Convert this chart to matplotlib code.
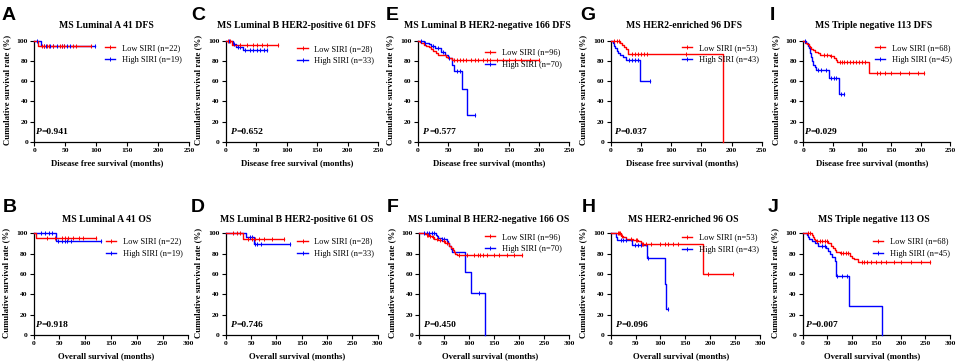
import numpy as np
import matplotlib
matplotlib.use('Agg')
import matplotlib.pyplot as plt
from matplotlib.lines import Line2D

SERIF = ['Liberation Serif', 'DejaVu Serif']
SANS = ['Liberation Sans', 'DejaVu Sans']
RED = '#FF0000'
BLUE = '#0000FF'

# ---------------- data (time in months, survival in %) ----------------
letters = ['A', 'B', 'C', 'D', 'E', 'F', 'G', 'H', 'I', 'J']
titles = ['MS Luminal A 41 DFS', 'MS Luminal A 41 OS',
          'MS Luminal B HER2-positive 61 DFS', 'MS Luminal B HER2-positive 61 OS',
          'MS Luminal B HER2-negative 166 DFS', 'MS Luminal B HER2-negative 166 OS',
          'MS HER2-enriched 96 DFS', 'MS HER2-enriched 96 OS',
          'MS Triple negative 113 DFS', 'MS Triple negative 113 OS']
low_labels = ['Low SIRI (n=22)', 'Low SIRI (n=22)', 'Low SIRI (n=28)', 'Low SIRI (n=28)',
              'Low SIRI (n=96)', 'Low SIRI (n=96)', 'Low SIRI (n=53)', 'Low SIRI (n=53)',
              'Low SIRI (n=68)', 'Low SIRI (n=68)']
high_labels = ['High SIRI (n=19)', 'High SIRI (n=19)', 'High SIRI (n=33)', 'High SIRI (n=33)',
               'High SIRI (n=70)', 'High SIRI (n=70)', 'High SIRI (n=43)', 'High SIRI (n=43)',
               'High SIRI (n=45)', 'High SIRI (n=45)']
p_values = ['0.941', '0.918', '0.652', '0.746', '0.577', '0.450', '0.037', '0.096', '0.029', '0.007']
x_labels = ['Disease free survival (months)', 'Overall survival (months)']
y_label = 'Cumulative survival rate (%)'
dfs_ticks = [0, 50, 100, 150, 200, 250]
os_ticks = [0, 50, 100, 150, 200, 250, 300]
y_ticks = [0, 20, 40, 60, 80, 100]

A_low_t = [0, 6, 91]
A_low_s = [100, 95.5, 95.5]
A_low_c = [12, 15, 21, 24, 30, 42, 45, 48, 62, 68, 91]
A_high_t = [0, 11, 98]
A_high_s = [100, 94.7, 94.7]
A_high_c = [5, 15, 19, 25, 30, 36, 44, 48, 52, 58, 98]

B_low_t = [0, 5, 120]
B_low_s = [100, 95.5, 95.5]
B_low_c = [25, 41, 54, 60, 67, 77, 87, 96, 120]
B_high_t = [0, 43, 131]
B_high_s = [100, 92.9, 92.9]
B_high_c = [15, 21, 29, 35, 48, 54, 60, 64, 72, 131]

C_low_t = [0, 10, 85]
C_low_s = [100, 96.4, 96.4]
C_low_c = [3, 7, 24, 35, 45, 52, 60, 68, 85]
C_high_t = [0, 12, 17, 29, 68]
C_high_s = [100, 97, 93.9, 90.6, 90.6]
C_high_c = [5, 14, 20, 24, 32, 39, 45, 51, 56, 62, 68]

D_low_t = [0, 34, 116]
D_low_s = [100, 94.4, 94.4]
D_low_c = [15, 22, 28, 45, 52, 58, 65, 75, 92, 116]
D_high_t = [0, 40, 56, 126]
D_high_s = [100, 96.7, 89.5, 89.5]
D_high_c = [48, 52, 58, 62, 70, 126]

E_low_t = [0, 3, 6, 10, 14, 18, 22, 26, 30, 33, 46, 50, 56, 200]
E_low_s = [100, 99, 98, 96, 95, 94, 92, 90, 88, 86, 84, 83, 81.5, 81.5]
E_low_c = [60, 65, 70, 75, 80, 88, 95, 100, 108, 115, 120, 130, 140, 150, 160, 170, 185, 200]
E_high_t = [0, 10, 18, 22, 28, 38, 45, 50, 57, 60, 73, 81, 94]
E_high_s = [100, 98.5, 97, 95.5, 93, 89.5, 86, 83, 76, 70.5, 52.5, 26.3, 26.3]
E_high_c = [5, 12, 25, 33, 42, 52, 65, 70, 94]

F_low_t = [0, 12, 15, 20, 25, 30, 38, 45, 52, 60, 63, 67, 70, 72, 75, 205]
F_low_s = [100, 99, 98, 97, 96, 94, 93, 92, 90, 88, 86, 84, 82, 80, 78.4, 78.4]
F_low_c = [15, 18, 22, 28, 35, 42, 50, 55, 80, 95, 110, 118, 122, 128, 135, 150, 160, 175, 190, 205]
F_high_t = [0, 33, 35, 38, 45, 55, 58, 60, 63, 65, 92, 103, 131]
F_high_s = [100, 98.5, 97, 95.5, 94, 92.5, 90.5, 88, 85, 82, 61.5, 41, 0]
F_high_c = [10, 15, 20, 25, 30, 45, 50, 55, 120]

G_low_t = [0, 15, 18, 22, 25, 28, 186]
G_low_s = [100, 98, 96, 94, 92, 87.4, 0]
G_low_c = [5, 10, 13, 35, 40, 45, 50, 55, 60, 124]
G_high_t = [0, 3, 5, 7, 10, 12, 16, 20, 25, 48, 65]
G_high_s = [100, 97.7, 95, 93, 90, 88, 86, 84, 81, 60.5, 60.5]
G_high_c = [30, 35, 40, 45, 65]

H_low_t = [0, 20, 25, 30, 45, 55, 60, 186, 245]
H_low_s = [100, 97, 96, 94, 93, 92, 89.5, 59.7, 59.7]
H_low_c = [15, 17, 19, 22, 40, 50, 52, 62, 65, 70, 80, 100, 110, 115, 125, 135, 195, 245]
H_high_t = [0, 10, 13, 42, 72, 110, 112, 116]
H_high_s = [100, 96.5, 93.4, 88.5, 75.8, 50.5, 25.2, 25.2]
H_high_c = [20, 25, 30, 48, 55, 60, 75, 116]

I_low_t = [0, 3, 6, 9, 11, 13, 16, 20, 25, 28, 45, 52, 56, 58, 112, 206]
I_low_s = [100, 98.5, 97, 95.5, 94, 92.5, 91, 89.5, 88, 86.5, 85, 83, 81, 79, 68.5, 68.5]
I_low_c = [35, 40, 47, 62, 66, 70, 75, 80, 85, 90, 95, 100, 105, 125, 130, 140, 150, 165, 180, 195, 206]
I_high_t = [0, 5, 8, 10, 12, 13, 14, 16, 20, 22, 43, 61, 69]
I_high_s = [100, 97.8, 95.5, 93, 88, 84, 80, 76, 74, 71.5, 63.2, 47.5, 47.5]
I_high_c = [3, 25, 30, 38, 48, 52, 56, 65, 69]

J_low_t = [0, 18, 20, 22, 25, 28, 52, 58, 62, 65, 68, 75, 97, 100, 105, 112, 260]
J_low_s = [100, 98, 96, 94, 93, 92, 90, 88, 86, 84, 82, 80.5, 78, 76, 74.5, 71.5, 71.5]
J_low_c = [10, 15, 30, 35, 40, 45, 50, 78, 82, 88, 92, 120, 125, 130, 140, 150, 160, 170, 185, 200, 220, 240, 260]
J_high_t = [0, 8, 10, 13, 18, 25, 32, 48, 52, 55, 60, 65, 67, 95, 162]
J_high_s = [100, 98, 96, 94, 92, 90, 88, 86, 83, 80, 76.5, 73, 58.5, 29, 0]
J_high_c = [40, 45, 70, 80, 90]

curves = {
    'A': (A_low_t, A_low_s, A_low_c, A_high_t, A_high_s, A_high_c),
    'B': (B_low_t, B_low_s, B_low_c, B_high_t, B_high_s, B_high_c),
    'C': (C_low_t, C_low_s, C_low_c, C_high_t, C_high_s, C_high_c),
    'D': (D_low_t, D_low_s, D_low_c, D_high_t, D_high_s, D_high_c),
    'E': (E_low_t, E_low_s, E_low_c, E_high_t, E_high_s, E_high_c),
    'F': (F_low_t, F_low_s, F_low_c, F_high_t, F_high_s, F_high_c),
    'G': (G_low_t, G_low_s, G_low_c, G_high_t, G_high_s, G_high_c),
    'H': (H_low_t, H_low_s, H_low_c, H_high_t, H_high_s, H_high_c),
    'I': (I_low_t, I_low_s, I_low_c, I_high_t, I_high_s, I_high_c),
    'J': (J_low_t, J_low_s, J_low_c, J_high_t, J_high_s, J_high_c),
}

# ---------------- layout (pixels) ----------------
W, H = 962, 363
# x0 (t=0), x1 (t=max), y_top (100%), y_bot (0%)
axes_px = {
    'A': (34.3, 189.3, 41, 141.7), 'C': (225.7, 378.3, 41, 141.7),
    'E': (417.7, 569.3, 41, 141.7), 'G': (610.7, 761.7, 41, 141.7),
    'I': (803.3, 950, 41, 141.7),
    'B': (33.7, 188.3, 233.3, 335), 'D': (225.7, 377.7, 233.3, 335),
    'F': (419.3, 569.3, 233.3, 335), 'H': (610.7, 760, 233.3, 335),
    'J': (802.7, 950, 233.3, 335),
}
letter_px = {'A': (2, 20), 'C': (191, 20), 'E': (386, 20), 'G': (580, 20), 'I': (770, 20),
             'B': (3, 212), 'D': (191, 212), 'F': (387, 212), 'H': (582, 212), 'J': (768, 212)}
title_px = {'A': (106.7, 28.3), 'C': (296.2, 28.3), 'E': (487.5, 28.3), 'G': (684.2, 28.3),
            'I': (873.3, 28.3), 'B': (106.7, 222.3), 'D': (296.3, 222.3), 'F': (488.8, 222.3),
            'H': (683.3, 222.3), 'J': (874, 222.3)}
legend_px = {'A': (105, 54.3), 'C': (297.3, 55), 'E': (485, 58.7), 'G': (682, 54.3),
             'I': (875, 54.3), 'B': (106, 247.7), 'D': (297.3, 247.7), 'F': (485, 243.3),
             'H': (682, 243.7), 'J': (873, 247.7)}
p_offset_px = {'A': 1.7, 'C': 5, 'E': 5.6, 'G': 4.3, 'I': 1.7,
               'B': 2, 'D': 5.3, 'F': 4.4, 'H': 5, 'J': 3}

fig = plt.figure(figsize=(W / 100, H / 100), dpi=100)
fig.patch.set_facecolor('white')


def step_val(t, s, x):
    idx = np.searchsorted(np.asarray(t), x, side='right') - 1
    idx = np.clip(idx, 0, len(s) - 1)
    return np.asarray(s)[idx]


for i, L in enumerate(letters):
    x0, x1, yt, yb = axes_px[L]
    ax = fig.add_axes([x0 / W, 1 - yb / H, (x1 - x0) / W, (yb - yt) / H])
    is_os = (i % 2 == 1)
    xticks = os_ticks if is_os else dfs_ticks
    ax.set_xlim(0, xticks[-1])
    ax.set_ylim(0, 100)
    ax.set_xticks(xticks)
    ax.set_yticks(y_ticks)
    for sp in ['top', 'right']:
        ax.spines[sp].set_visible(False)
    for sp in ['left', 'bottom']:
        ax.spines[sp].set_linewidth(0.9)
    ax.tick_params(axis='both', length=3, width=0.8, pad=1.5, labelsize=5.4)
    for lab in ax.get_xticklabels() + ax.get_yticklabels():
        lab.set_fontfamily(SERIF)
        lab.set_fontweight('bold')

    lt, ls, lc, ht, hs, hc = curves[L]
    for t, s, c, col in [(ht, hs, hc, BLUE), (lt, ls, lc, RED)]:
        ax.step(t, s, where='post', color=col, lw=1.0, clip_on=False, zorder=3)
        ax.plot(c, step_val(t, s, c), ls='none', marker='|', ms=3, mew=0.7,
                color=col, clip_on=False, zorder=4)

    # axis labels
    w_px = x1 - x0
    h_px = yb - yt
    ax.set_xlabel(x_labels[1 if is_os else 0], fontsize=6.3, fontweight='bold', family=SERIF)
    ax.xaxis.set_label_coords(0.5 - 4.5 / w_px, -21.5 / h_px)
    ax.xaxis.label.set_va('center')
    ax.set_ylabel(y_label, fontsize=6.3, fontweight='bold', family=SERIF)
    ax.yaxis.set_label_coords(-27.5 / w_px, 0.51)
    ax.yaxis.label.set_va('center')

    # legend
    hl = [Line2D([], [], color=RED, lw=1.0, marker='|', ms=3, mew=0.7),
          Line2D([], [], color=BLUE, lw=1.0, marker='|', ms=3, mew=0.7)]
    lx, ly = legend_px[L]
    ax.legend(hl, [low_labels[i], high_labels[i]], loc='center left',
              bbox_to_anchor=(lx / W, 1 - ly / H), bbox_transform=fig.transFigure,
              frameon=False, borderpad=0, borderaxespad=0, handlelength=1.25,
              handletextpad=0.8, labelspacing=0.5, numpoints=1,
              prop={'family': SERIF, 'size': 6})

    # P value
    px = p_offset_px[L] / w_px
    t1 = ax.text(px, 0.10, 'P', transform=ax.transAxes, fontsize=6.8, fontweight='bold',
                 fontstyle='italic', family=SERIF, va='center', ha='left')
    ax.annotate('=' + p_values[i], xy=(1, 0), xycoords=t1, fontsize=6.8, fontweight='bold',
                family=SERIF, va='bottom', ha='left')

    # title and panel letter
    tx, ty = title_px[L]
    fig.text(tx / W, 1 - ty / H, titles[i], ha='center', va='baseline', fontsize=7,
             fontweight='bold', family=SERIF)
    lx2, ly2 = letter_px[L]
    fig.text(lx2 / W, 1 - ly2 / H, L, ha='left', va='baseline', fontsize=14,
             fontweight='bold', family=SANS)

fig.savefig('out.png', dpi=100, facecolor='white')
